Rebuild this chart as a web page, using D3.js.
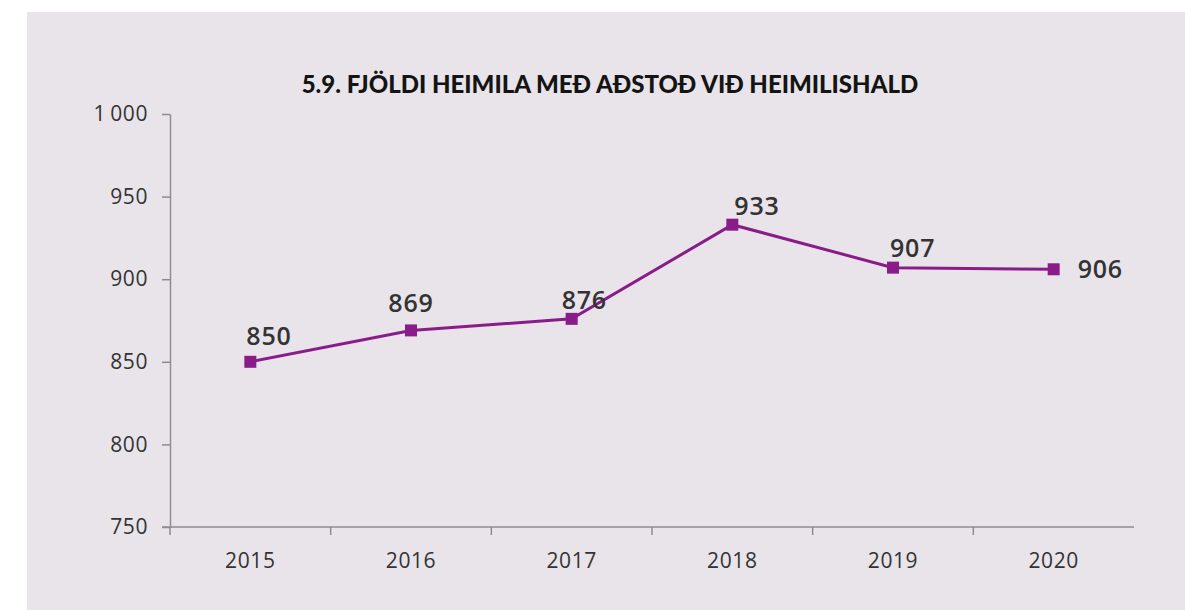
<!DOCTYPE html>
<html>
<head>
<meta charset="utf-8">
<script src="https://cdn.jsdelivr.net/npm/d3@7/dist/d3.min.js"></script>
<style>
  html, body { margin: 0; padding: 0; background: #ffffff; }
  svg { display: block; }
</style>
</head>
<body>
<svg id="chart" width="1185" height="610"></svg>
<script>
// Households receiving home-help services, by year
const years = ["2015", "2016", "2017", "2018", "2019", "2020"];
const households = [850, 869, 876, 933, 907, 906];
const yTickValues = [750, 800, 850, 900, 950, 1000];
const yTickLabels = ["750", "800", "850", "900", "950", "1\u2009000"];
const chartTitle = "5.9. FJÖLDI HEIMILA MEÐ AÐSTOÐ VIÐ HEIMILISHALD";

const W = 1185, H = 610;
const plot = { left: 170, right: 1134, top: 114, bottom: 527 };

const svg = d3.select("#chart");

// panel background
svg.append("rect")
  .attr("x", 27).attr("y", 12)
  .attr("width", W - 27).attr("height", H - 12)
  .attr("fill", "#e8e4ea");

// title
svg.append("text")
  .attr("x", 610).attr("y", 93)
  .attr("text-anchor", "middle")
  .attr("font-family", "Lato, 'Open Sans', sans-serif")
  .attr("font-weight", 900)
  .attr("font-size", 24)
  .attr("fill", "#141414")
  .text(chartTitle);

const x = d3.scaleBand().domain(years).range([plot.left, plot.right]);
const y = d3.scaleLinear().domain([750, 1000]).range([plot.bottom, plot.top]);

const axisColor = "#8e8c90";
const tickFont = "'Open Sans', sans-serif";
const tickColor = "#333333";

// y axis
const yAxis = svg.append("g")
  .attr("transform", `translate(${plot.left},0)`)
  .call(d3.axisLeft(y).tickValues(yTickValues)
    .tickFormat((d, i) => yTickLabels[i]).tickSize(8).tickSizeOuter(0).tickPadding(14));
yAxis.select(".domain").attr("stroke", axisColor).attr("stroke-width", 1.5);
yAxis.selectAll(".tick line").attr("stroke", axisColor).attr("stroke-width", 1.5);
yAxis.selectAll(".tick text")
  .attr("font-family", tickFont).attr("font-size", 21)
  .attr("font-weight", 500)
  .attr("letter-spacing", 0.6)
  .attr("fill", tickColor);

// x axis: ticks at category boundaries
const xAxis = svg.append("g")
  .attr("transform", `translate(0,${plot.bottom})`);
xAxis.append("line")
  .attr("x1", plot.left - 8).attr("x2", plot.right)
  .attr("stroke", axisColor).attr("stroke-width", 1.5);
const boundaries = years.map(d => x(d));
xAxis.selectAll("line.tk").data(boundaries).join("line")
  .attr("class", "tk")
  .attr("x1", d => d).attr("x2", d => d)
  .attr("y1", 0).attr("y2", 8)
  .attr("stroke", axisColor).attr("stroke-width", 1.5);
xAxis.selectAll("text").data(years).join("text")
  .attr("x", d => x(d) + x.bandwidth() / 2)
  .attr("y", 41)
  .attr("text-anchor", "middle")
  .attr("font-family", tickFont).attr("font-size", 21)
  .attr("font-weight", 500)
  .attr("letter-spacing", 0.6)
  .attr("fill", tickColor)
  .text(d => d);

const pts = years.map((yr, i) => ({ yr, v: households[i] }));
const cx = d => x(d.yr) + x.bandwidth() / 2;

// line
const lineColor = "#8a1c8a";
svg.append("path")
  .datum(pts)
  .attr("fill", "none")
  .attr("stroke", lineColor)
  .attr("stroke-width", 3)
  .attr("d", d3.line().x(cx).y(d => y(d.v)));

// square markers
svg.selectAll("rect.mk").data(pts).join("rect")
  .attr("class", "mk")
  .attr("x", d => cx(d) - 6).attr("y", d => y(d.v) - 6)
  .attr("width", 12).attr("height", 12)
  .attr("fill", lineColor);

// value labels; placement relative to each marker
const labelPlacement = [
  { anchor: "start", dx: -4, dy: -17 },
  { anchor: "middle", dx: 0, dy: -18 },
  { anchor: "start", dx: -10, dy: -10 },
  { anchor: "start", dx: 2, dy: -10 },
  { anchor: "start", dx: -3, dy: -11 },
  { anchor: "start", dx: 24, dy: 9 }
];
svg.selectAll("text.val").data(pts).join("text")
  .attr("class", "val")
  .attr("x", (d, i) => cx(d) + labelPlacement[i].dx)
  .attr("y", (d, i) => y(d.v) + labelPlacement[i].dy)
  .attr("text-anchor", (d, i) => labelPlacement[i].anchor)
  .attr("font-family", tickFont)
  .attr("font-size", 25)
  .attr("font-weight", 600)
  .attr("letter-spacing", 0.8)
  .attr("fill", "#333333")
  .text(d => d.v);
</script>
</body>
</html>
